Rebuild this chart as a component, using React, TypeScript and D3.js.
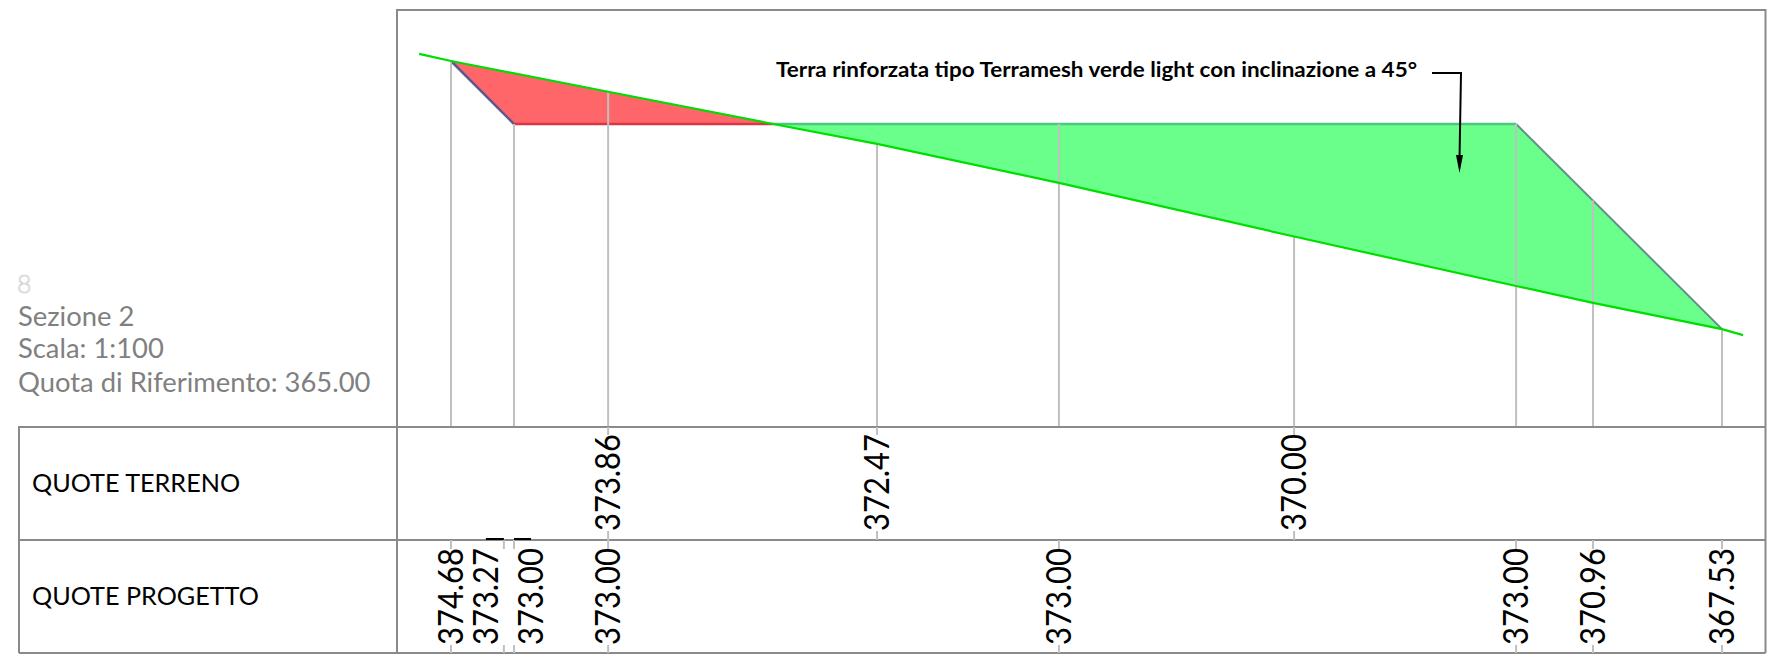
import React from 'react';
import * as d3 from 'd3';

// all values in metres
const stations = [0, 1.41, 1.68, 4.19, 11.36, 16.21, 22.48, 28.4, 30.45, 33.89];
const projectLabels = ['374.68', '373.27', '373.00', '373.00', '', '373.00', '', '373.00', '370.96', '367.53'];
const terrainLabels = ['', '', '', '373.86', '372.47', '', '370.00', '', '', ''];
const gridElevations = [374.68, null, 373.0, 373.86, 372.47, 373.0, 370.0, 373.0, 370.96, 367.53];

const terrainX = [-0.85, 0, 4.19, 8.59, 11.36, 16.21, 22.48, 28.4, 30.45, 33.89, 34.45];
const terrainZ = [374.87, 374.68, 373.86, 373.0, 372.47, 371.43, 370.0, 368.68, 368.23, 367.53, 367.37];

const cutX = [0, 1.68, 8.59];
const cutZ = [374.68, 373.0, 373.0];
const fillX = [8.59, 28.4, 33.89];
const fillZ = [373.0, 373.0, 367.53];

const infoLines = ['Sezione 2', 'Scala: 1:100', 'Quota di Riferimento: 365.00'];
const rowNames = ['QUOTE TERRENO', 'QUOTE PROGETTO'];
const note = 'Terra rinforzata tipo Terramesh verde light con inclinazione a 45°';

const W = 1770;
const H = 655;
const FONT = 'Lato, "Open Sans", sans-serif';
const FRAME = '#8a8a8a';
const GRID = '#c0c0c0';

const x = d3.scaleLinear().domain([0, 33.89]).range([451, 1722]);
const y = d3.scaleLinear().domain([365, 373]).range([424, 124]);

const line = d3.line<[number, number]>().x((d) => x(d[0])).y((d) => y(d[1]));
const zip = (a: number[], b: number[]) => a.map((v, i) => [v, b[i]] as [number, number]);

const terrain = zip(terrainX, terrainZ);
const cutArea = [...zip(cutX, cutZ), ...terrain.filter((d) => d[0] >= 0 && d[0] < 8.59).reverse()];
const fillArea = [...zip(fillX, fillZ), ...terrain.filter((d) => d[0] > 8.59 && d[0] < 33.89).reverse()];

// the two crowded labels are pushed aside and get a small leader
const labelShift: Record<number, number> = { 1: -18, 2: 17 };

const Rotated = ({ px, bottom, text }: { px: number; bottom: number; text: string }) => (
  <text
    transform={`translate(${px + 12},${bottom}) rotate(-90)`}
    fontFamily={FONT}
    fontSize={35}
    textLength={97}
    lengthAdjust="spacingAndGlyphs"
    fill="#000"
  >
    {text}
  </text>
);

export default function App() {
  return (
    <svg width={W} height={H} style={{ position: 'absolute', left: 0, top: 0, background: '#fff' }}>
      <path d={line(cutArea) + 'Z'} fill="#ff666a" />
      <path d={line(fillArea) + 'Z'} fill="#69ff8a" />

      {/* section outline */}
      <path d={line(zip(cutX.slice(0, 2), cutZ.slice(0, 2))) || ''} fill="none" stroke="#5c5a8c" strokeWidth={2.5} />
      <path d={line(zip(cutX.slice(1), cutZ.slice(1))) || ''} fill="none" stroke="#dc3545" strokeWidth={2.5} />
      <path d={line(zip(fillX.slice(0, 2), fillZ.slice(0, 2))) || ''} fill="none" stroke="#4cc87c" strokeWidth={2.5} />
      <path d={line(zip(fillX.slice(1), fillZ.slice(1))) || ''} fill="none" stroke="#5f9188" strokeWidth={2} />

      {/* verticals down to the table */}
      {stations.map((s, i) =>
        gridElevations[i] === null ? null : (
          <line key={i} x1={x(s)} x2={x(s)} y1={y(gridElevations[i] as number)} y2={427} stroke={GRID} strokeWidth={2} />
        ),
      )}

      <path d={line(terrain) || ''} fill="none" stroke="#00dd00" strokeWidth={2.2} />

      {/* frame and table */}
      <g fill="none" stroke={FRAME} strokeWidth={2}>
        <path d="M397,427V10H1765.5V653" />
        <path d="M19,653V427H1765.5" />
        <path d="M19,540H1765.5" />
        <path d="M19,653H1765.5" />
        <path d="M397,427V653" />
      </g>

      {/* table stubs and labels */}
      {stations.map((s, i) =>
        terrainLabels[i] ? (
          <g key={i}>
            <line x1={x(s)} x2={x(s)} y1={427} y2={435} stroke={GRID} strokeWidth={2} />
            <line x1={x(s)} x2={x(s)} y1={531} y2={540} stroke={GRID} strokeWidth={2} />
            <Rotated px={x(s)} bottom={531} text={terrainLabels[i]} />
          </g>
        ) : null,
      )}
      {stations.map((s, i) =>
        projectLabels[i] ? (
          <g key={i}>
            <line x1={x(s)} x2={x(s)} y1={540} y2={549} stroke={GRID} strokeWidth={2} />
            <line x1={x(s)} x2={x(s)} y1={645} y2={653} stroke={GRID} strokeWidth={2} />
            {labelShift[i] ? (
              <line x1={x(s)} x2={x(s) + labelShift[i]} y1={539} y2={539} stroke="#000" strokeWidth={2} />
            ) : null}
            <Rotated px={x(s) + (labelShift[i] || 0)} bottom={645} text={projectLabels[i]} />
          </g>
        ) : null,
      )}

      {/* left side texts */}
      <text x={17} y={293} fontFamily={FONT} fontSize={25} fontWeight={300} fill="none" stroke="#cfcfcf" strokeWidth={0.7}>
        8
      </text>
      {infoLines.map((t, i) => (
        <text key={t} x={18} y={[326, 358, 392][i]} fontFamily={FONT} fontSize={27.4} fill="#808080">
          {t}
        </text>
      ))}
      {rowNames.map((t, i) => (
        <text key={t} x={32} y={[492, 605][i]} fontFamily={FONT} fontSize={25.2} fill="#000">
          {t}
        </text>
      ))}

      {/* note with arrow */}
      <text x={776} y={77} fontFamily={FONT} fontSize={21} fontWeight={700} fill="#000" textLength={641} lengthAdjust="spacingAndGlyphs">
        {note}
      </text>
      <path d="M1432,73H1461L1459.5,160" fill="none" stroke="#000" strokeWidth={2} />
      <path d="M1456,155H1463L1459.5,173Z" fill="#000" />
    </svg>
  );
}
